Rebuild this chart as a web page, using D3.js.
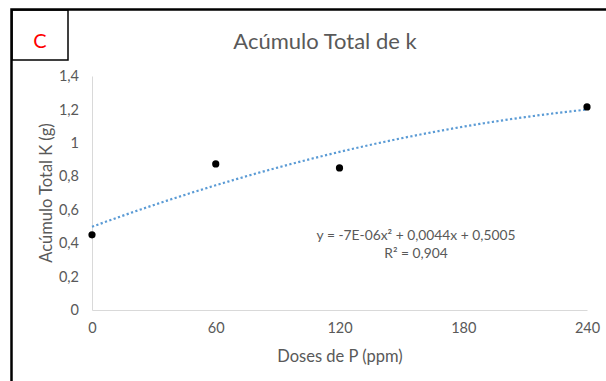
<!DOCTYPE html>
<html><head><meta charset="utf-8">
<script src="https://cdn.jsdelivr.net/npm/d3@7/dist/d3.min.js"></script>
<style>body{margin:0;background:#fff}svg{display:block}text{font-family:Lato,"Open Sans",sans-serif}</style>
</head><body><svg id="c" width="606" height="381"></svg>
<script>
const doses = [0, 60, 120, 240];
const kTotal = [0.45, 0.874, 0.85, 1.215];
const xTicks = [0, 60, 120, 180, 240];
const yTicks = [0, 0.2, 0.4, 0.6, 0.8, 1, 1.2, 1.4];
const title = "Acúmulo Total de k";
const xLabel = "Doses de P (ppm)";
const yLabel = "Acúmulo Total K (g)";
const eqLines = ["y = -7E-06x² + 0,0044x + 0,5005", "R² = 0,904"];
const panel = "C";

const svg = d3.select("#c");
const x = d3.scaleLinear().domain([0, 240]).range([92, 587]);
const y = d3.scaleLinear().domain([0, 1.4]).range([310, 76]);
const fmt = d => String(+d.toFixed(1)).replace(".", ",");

// outer frame
svg.append("path").attr("d", "M11.5,381 V9.5 H606").attr("fill", "none").attr("stroke", "#000").attr("stroke-width", 2.5);
// panel box
svg.append("rect").attr("x", 12).attr("y", 10).attr("width", 56).attr("height", 50).attr("fill", "none").attr("stroke", "#000").attr("stroke-width", 1.5);
svg.append("text").attr("x", 40).attr("y", 48).attr("text-anchor", "middle").attr("fill", "#ff0000").attr("font-size", 20).text(panel);

// title
svg.append("text").attr("x", 325).attr("y", 49).attr("text-anchor", "middle").attr("fill", "#595959").attr("font-size", 22).text(title);

// axes
const ya = svg.append("g").attr("transform", "translate(92,0)").call(d3.axisLeft(y).tickValues(yTicks).tickSize(0).tickPadding(13).tickFormat(fmt));
ya.select(".domain").attr("stroke", "#d9d9d9");
ya.selectAll("text").attr("fill", "#595959").attr("font-size", 14.5).attr("font-family", "Lato, sans-serif");
const xa = svg.append("g").attr("transform", "translate(0,310)").call(d3.axisBottom(x).tickValues(xTicks).tickSize(0).tickPadding(13).tickFormat(d => d));
xa.select(".domain").attr("stroke", "#d9d9d9");
xa.selectAll("text").attr("fill", "#595959").attr("font-size", 14.5).attr("font-family", "Lato, sans-serif");

// axis titles
svg.append("text").attr("x", 340).attr("y", 362).attr("text-anchor", "middle").attr("fill", "#595959").attr("font-size", 16.5).text(xLabel);
svg.append("text").attr("transform", "translate(52,193) rotate(-90)").attr("text-anchor", "middle").attr("fill", "#595959").attr("font-size", 16.5).text(yLabel);

// quadratic least-squares trendline from data
function polyfit2(xs, ys) {
  let S = [0,0,0,0,0], T = [0,0,0];
  xs.forEach((xi, i) => { for (let k = 0; k < 5; k++) S[k] += Math.pow(xi, k); for (let k = 0; k < 3; k++) T[k] += ys[i] * Math.pow(xi, k); });
  const A = [[S[0],S[1],S[2],T[0]],[S[1],S[2],S[3],T[1]],[S[2],S[3],S[4],T[2]]];
  for (let i = 0; i < 3; i++) { for (let j = i + 1; j < 3; j++) { const f = A[j][i] / A[i][i]; for (let k = i; k < 4; k++) A[j][k] -= f * A[i][k]; } }
  const c = [0,0,0];
  for (let i = 2; i >= 0; i--) { let s = A[i][3]; for (let k = i + 1; k < 3; k++) s -= A[i][k] * c[k]; c[i] = s / A[i][i]; }
  return c;
}
const coef = polyfit2(doses, kTotal);
const trend = d3.range(0, 241, 2).map(v => [v, coef[0] + coef[1] * v + coef[2] * v * v]);
svg.append("path").datum(trend).attr("fill", "none").attr("stroke", "#5b9bd5").attr("stroke-width", 2.2).attr("stroke-dasharray", "2.2,2.4")
  .attr("d", d3.line().x(d => x(d[0])).y(d => y(d[1])));

// points
svg.selectAll("circle.pt").data(doses).enter().append("circle").attr("class", "pt")
  .attr("cx", (d) => x(d)).attr("cy", (d, i) => y(kTotal[i])).attr("r", 3.6).attr("fill", "#000");

// equation
svg.selectAll("text.eq").data(eqLines).enter().append("text").attr("class", "eq")
  .attr("x", 416).attr("y", (d, i) => 240 + i * 18).attr("text-anchor", "middle").attr("fill", "#595959").attr("font-size", 13.8).text(d => d);
</script></body></html>
